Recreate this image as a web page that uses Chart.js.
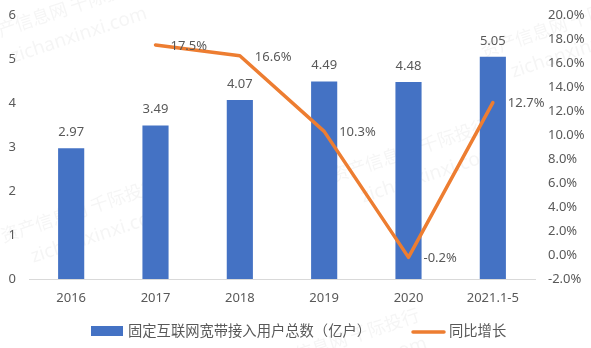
<!DOCTYPE html>
<html>
<head>
<meta charset="utf-8">
<script src="https://cdn.jsdelivr.net/npm/chart.js@4/dist/chart.umd.min.js"></script>
<style>
  html, body { margin: 0; padding: 0; background: #fff; }
  #wrap { width: 591px; height: 348px; }
</style>
</head>
<body>
<div id="wrap"><canvas id="c" width="591" height="348"></canvas></div>
<script>
// Broadband subscribers (hundred million households) and year-on-year growth
const categories = ['2016', '2017', '2018', '2019', '2020', '2021.1-5'];
const subscribers = [2.97, 3.49, 4.07, 4.49, 4.48, 5.05];
const growth = [null, 17.5, 16.6, 10.3, -0.2, 12.7];
const leftTicks = [0, 1, 2, 3, 4, 5, 6];
const rightTicks = [-2, 0, 2, 4, 6, 8, 10, 12, 14, 16, 18, 20];
const barLabel = '固定互联网宽带接入用户总数（亿户）';
const lineLabel = '同比增长';
const watermarkCn = '资产信息网 千际投行';
const watermarkUrl = 'zichanxinxi.com';

const BLUE = '#4472C4';
const ORANGE = '#ED7D31';
const TEXT = '#595959';
const FONT = "'Noto Sans', 'Noto Sans CJK SC', sans-serif";

// Faint diagonal watermark behind the plot
const watermark = {
  id: 'watermark',
  beforeDraw(chart) {
    const ctx = chart.ctx;
    const spots = [[40, 200], [370, 140], [20, 0], [520, 15], [300, 330]];
    ctx.save();
    ctx.fillStyle = 'rgba(120,120,120,0.075)';
    ctx.textAlign = 'center';
    ctx.textBaseline = 'middle';
    for (const [x, y] of spots) {
      ctx.save();
      ctx.translate(x + 40, y + 10);
      ctx.rotate(-0.32);
      ctx.font = "18px 'Noto Sans CJK SC', sans-serif";
      ctx.fillText(watermarkCn, 0, 0);
      ctx.font = "19px 'Noto Sans', sans-serif";
      ctx.fillText(watermarkUrl, 10, 30);
      ctx.restore();
    }
    ctx.restore();
  }
};

// Value labels: above bars, to the right of line points
const valueLabels = {
  id: 'valueLabels',
  afterDatasetsDraw(chart) {
    const ctx = chart.ctx;
    ctx.save();
    ctx.fillStyle = TEXT;
    ctx.font = '13px ' + FONT;
    ctx.textBaseline = 'middle';
    const barMeta = chart.getDatasetMeta(0);
    ctx.textAlign = 'center';
    barMeta.data.forEach((el, i) => {
      ctx.fillText(subscribers[i].toFixed(2), el.x, el.y - 16);
    });
    const lineMeta = chart.getDatasetMeta(1);
    ctx.textAlign = 'left';
    lineMeta.data.forEach((el, i) => {
      if (growth[i] === null) return;
      ctx.fillText(growth[i].toFixed(1) + '%', el.x + 15, el.y + 1);
    });
    ctx.restore();
  }
};

// Bottom legend
const legendBox = {
  id: 'legendBox',
  afterDraw(chart) {
    const ctx = chart.ctx;
    const y = 331;
    ctx.save();
    ctx.fillStyle = BLUE;
    ctx.fillRect(91, 326, 32, 10);
    ctx.fillStyle = TEXT;
    ctx.font = "14.3px 'Noto Sans CJK SC', sans-serif";
    ctx.textBaseline = 'middle';
    ctx.textAlign = 'left';
    ctx.fillText(barLabel, 128, y);
    ctx.strokeStyle = ORANGE;
    ctx.lineWidth = 3.5;
    ctx.lineCap = 'round';
    ctx.beginPath();
    ctx.moveTo(413, y + 1);
    ctx.lineTo(444, y + 1);
    ctx.stroke();
    ctx.fillText(lineLabel, 449, y);
    ctx.restore();
  }
};

new Chart(document.getElementById('c'), {
  type: 'bar',
  data: {
    labels: categories,
    datasets: [
      {
        type: 'bar',
        label: barLabel,
        data: subscribers,
        backgroundColor: BLUE,
        yAxisID: 'y',
        barPercentage: 0.31,
        categoryPercentage: 1,
        order: 2
      },
      {
        type: 'line',
        label: lineLabel,
        data: growth,
        borderColor: ORANGE,
        borderWidth: 3.5,
        borderCapStyle: 'round',
        borderJoinStyle: 'round',
        pointRadius: 0,
        tension: 0,
        spanGaps: false,
        yAxisID: 'y1',
        order: 1
      }
    ]
  },
  options: {
    responsive: false,
    animation: false,
    layout: { padding: { top: 15, bottom: 29, left: 0, right: 0 } },
    plugins: { legend: { display: false }, tooltip: { enabled: false } },
    scales: {
      x: {
        offset: true,
        grid: { display: false, drawTicks: false },
        border: { display: true, color: '#D9D9D9', width: 1 },
        ticks: { color: TEXT, font: { size: 13, family: FONT }, padding: 11, maxRotation: 0 },
        afterFit(s) { s.height = 40; s.paddingLeft = 0; s.paddingRight = 0; }
      },
      y: {
        position: 'left',
        min: 0, max: 6,
        afterBuildTicks(s) { s.ticks = leftTicks.map(v => ({ value: v })); },
        grid: { display: false, drawTicks: false },
        border: { display: false },
        ticks: { color: TEXT, font: { size: 13, family: FONT }, padding: 13 },
        afterFit(s) { s.width = 29; s.paddingTop = 0; s.paddingBottom = 0; }
      },
      y1: {
        position: 'right',
        min: -2, max: 20,
        afterBuildTicks(s) { s.ticks = rightTicks.map(v => ({ value: v })); },
        grid: { display: false, drawTicks: false },
        border: { display: false },
        ticks: {
          color: TEXT, font: { size: 13, family: FONT }, padding: 13,
          callback: v => v.toFixed(1) + '%'
        },
        afterFit(s) { s.width = 56; s.paddingTop = 0; s.paddingBottom = 0; }
      }
    }
  },
  plugins: [watermark, valueLabels, legendBox]
});
</script>
</body>
</html>
